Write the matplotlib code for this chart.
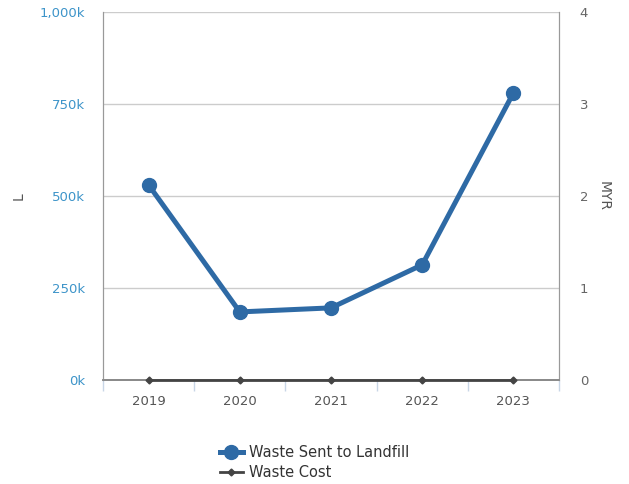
import numpy as np
import matplotlib.pyplot as plt
from matplotlib.ticker import FuncFormatter, FixedLocator

years = ["2019", "2020", "2021", "2022", "2023"]
landfill = [530000, 185000, 196000, 313000, 780000]
cost = [0, 0, 0, 0, 0]

plt.rcParams['font.family'] = ['DejaVu Sans']

fig = plt.figure(figsize=(6.29, 4.84), dpi=100)
ax = fig.add_axes([103 / 629, 104 / 484, 456 / 629, 368 / 484])
ax2 = ax.twinx()

x = np.arange(len(years))
l1, = ax.plot(x, landfill, color="#2e6aa5", lw=3.6, marker="o", ms=10,
              zorder=3, label="Waste Sent to Landfill")
l2, = ax2.plot(x, cost, color="#444444", lw=2, marker="D", ms=3.5,
               zorder=3, label="Waste Cost", clip_on=False)

ax.set_xlim(-0.5, len(years) - 0.5)
ax.set_ylim(0, 1000000)
ax2.set_ylim(0, 4)
ax.set_yticks([0, 250000, 500000, 750000, 1000000])
ax.yaxis.set_major_formatter(FuncFormatter(lambda v, p: f"{int(v/1000):,}k"))
ax2.set_yticks([0, 1, 2, 3, 4])

ax.set_xticks(x)
ax.set_xticklabels(years)
ax.xaxis.set_minor_locator(FixedLocator(np.arange(-0.5, len(years), 1)))
ax.tick_params(axis="x", which="major", length=0, pad=11, labelsize=9.5, labelcolor="#555555")
ax.tick_params(axis="x", which="minor", length=8, color="#c8d6e6", width=1)
ax.tick_params(axis="y", length=0, pad=13, labelsize=9.5, labelcolor="#3d94c9")
ax2.tick_params(axis="y", length=0, pad=15, labelsize=9.5, labelcolor="#666666")
ax2.tick_params(axis="x", length=0)

ax.grid(axis="y", color="#cccccc", lw=1)
ax.set_axisbelow(True)

for a in (ax, ax2):
    a.spines["top"].set_visible(False)
    a.spines["left"].set_color("#999999")
    a.spines["right"].set_color("#999999")
    a.spines["bottom"].set_color("#888888")
    a.spines["bottom"].set_linewidth(1.2)

ax.set_ylabel("L", color="#555555", fontsize=10)
ax.yaxis.set_label_coords(-77 / 456, 0.5)
ax2.set_ylabel("MYR", color="#555555", fontsize=10, rotation=-90)
ax2.yaxis.set_label_coords(1 + 52 / 456, 0.5)

fig.legend(handles=[l1, l2], loc="upper center", bbox_to_anchor=(0.50, 0.093),
           frameon=False, fontsize=10.5, handlelength=1.6, handletextpad=0.4,
           labelspacing=0.35, borderaxespad=0, labelcolor="#333333")

fig.savefig("out.png", dpi=100)
